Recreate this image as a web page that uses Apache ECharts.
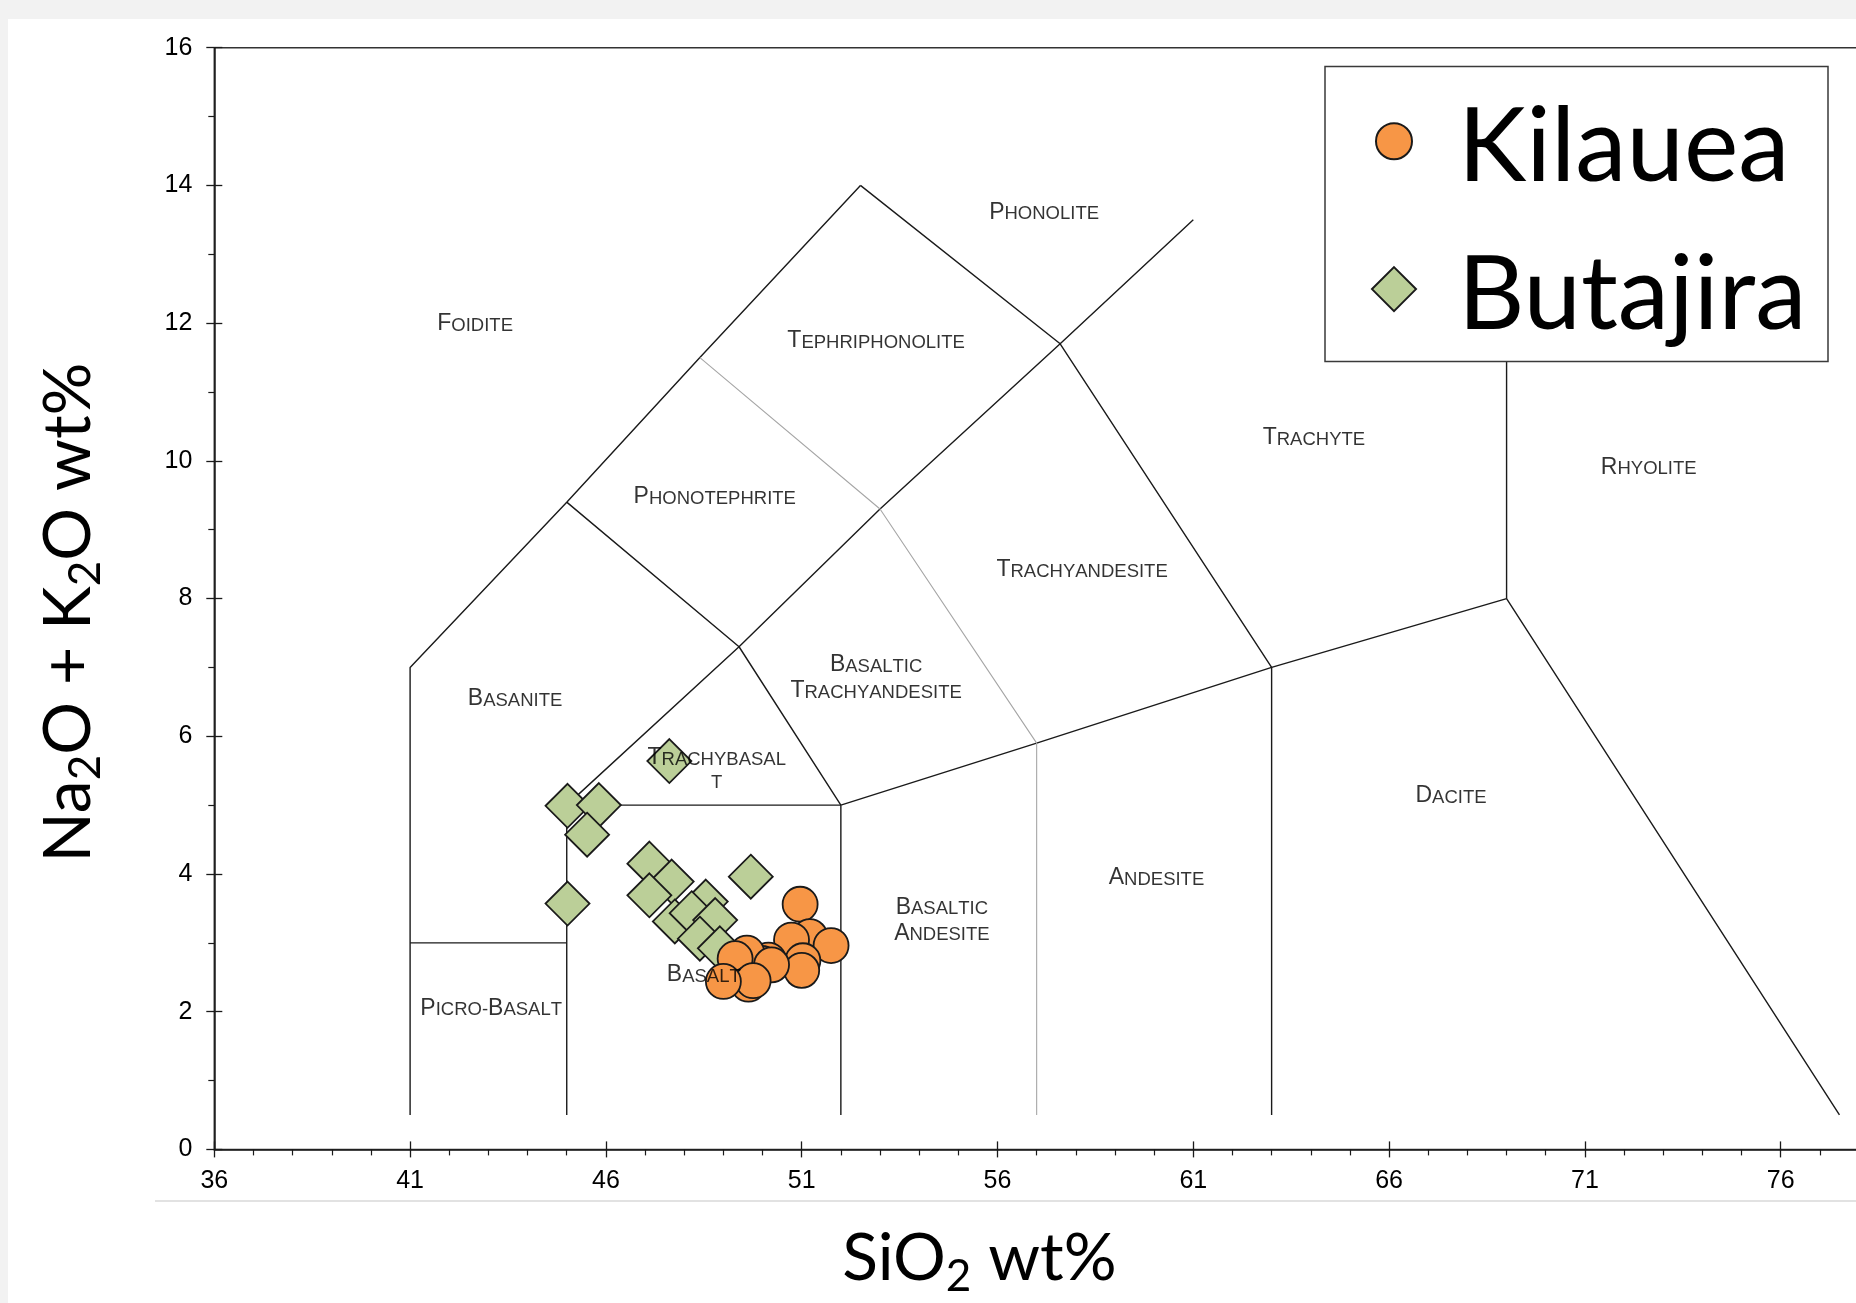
<!DOCTYPE html>
<html>
<head>
<meta charset="utf-8">
<title>TAS diagram</title>
<script src="https://cdn.jsdelivr.net/npm/echarts@6.0.0/dist/echarts.min.js"></script>
<style>
html, body { margin: 0; padding: 0; background: #f2f2f2; overflow: hidden; }
#container { position: absolute; left: 8px; top: 19px; width: 1848px; height: 1284px; background: #fff; }
</style>
</head>
<body>
<div id="container"></div>
<script>
// sample data: [SiO2 wt%, Na2O + K2O wt%]
var kilauea = [
	[50.96, 3.56], [51.21, 3.09], [51.75, 2.96], [50.74, 3.04], [51.03, 2.74],
	[51.00, 2.60], [50.15, 2.75], [49.98, 2.70], [49.60, 2.85], [49.30, 2.77],
	[50.23, 2.68], [49.64, 2.40], [49.76, 2.45], [49.00, 2.44]
];
var butajira = [
	[47.62, 5.64], [45.02, 4.99], [45.82, 5.00], [45.52, 4.57], [45.02, 3.57],
	[47.11, 4.15], [47.68, 3.89], [47.11, 3.69], [49.70, 3.96], [48.55, 3.60],
	[47.76, 3.31], [48.19, 3.43], [48.79, 3.33], [48.40, 3.06], [48.91, 2.92]
];

// TAS field boundaries (Le Bas et al.)
var fieldLines = [
	[[41, 0.5], [41, 7], [45, 9.4], [48.4, 11.5], [52.5, 14]],
	[[41, 3], [45, 3]],
	[[45, 0.5], [45, 5], [49.4, 7.3], [53, 9.3], [57.6, 11.7], [61, 13.5]],
	[[45, 9.4], [49.4, 7.3], [52, 5]],
	[[45, 5], [52, 5]],
	[[52, 0.5], [52, 5], [57, 5.9], [63, 7], [69, 8], [77.5, 0.5]],
	[[52.5, 14], [57.6, 11.7], [63, 7], [63, 0.5]],
	[[69, 8], [69, 13]]
];
var fieldLinesLight = [
	[[48.4, 11.5], [53, 9.3], [57, 5.9], [57, 0.5]]
];

var fieldNames = ['Foidite', 'Phonolite', 'Tephriphonolite', 'Phonotephrite', 'Trachyte', 'Rhyolite',
	'Trachyandesite', 'Basaltic\nTrachyandesite', 'Basanite', 'Trachybasal\nt', 'Dacite',
	'Andesite', 'Basaltic\nAndesite', 'Basalt', 'Picro-Basalt'];
var fieldAt = [[42.66, 12.01], [57.19, 13.63], [52.90, 11.76], [48.78, 9.50], [64.08, 10.36], [72.63, 9.93],
	[58.16, 8.44], [52.90, 6.87], [43.68, 6.57], [48.83, 5.54], [67.58, 5.16],
	[60.06, 3.97], [54.58, 3.35], [48.50, 2.56], [43.07, 2.07]];

var xMin = 36, xMax = 81, xStep = 5;
var yMin = 0, yMax = 16, yStep = 2;

// small caps: capitals big, the rest small upper case
function smallCaps(s){
	return s.split('\n').map(function(line){
		var out = '', i, c;
		for (i = 0; i < line.length; i++) {
			c = line.charAt(i);
			if (c >= 'A' && c <= 'Z') out += '{b|' + c + '}';
			else out += '{s|' + c.toUpperCase() + '}';
		}
		return out;
	}).join('\n');
}

var dom = document.getElementById('container');
var myChart = echarts.init(dom);
var axisColor = '#1a1a1a';
var series = [];

fieldLines.forEach(function(pts){
	series.push({
		type: 'line', data: pts, symbol: 'none', silent: true, z: 1,
		lineStyle: {color: '#1a1a1a', width: 1.4}
	});
});
fieldLinesLight.forEach(function(pts){
	series.push({
		type: 'line', data: pts, symbol: 'none', silent: true, z: 1,
		lineStyle: {color: '#a6a6a6', width: 1.1}
	});
});

series.push({
	name: 'Butajira', type: 'scatter', data: butajira, z: 2,
	symbol: 'diamond', symbolSize: 44,
	itemStyle: {color: '#bbcf98', borderColor: '#1a1a1a', borderWidth: 1.8, opacity: 1}
});

series.push({
	name: 'Kilauea', type: 'scatter', data: kilauea, z: 3,
	symbol: 'circle', symbolSize: 35,
	itemStyle: {color: '#f79646', borderColor: '#1a1a1a', borderWidth: 1.8, opacity: 1}
});

// field names sit on top of the samples
series.push({
	type: 'scatter', silent: true, z: 5, symbolSize: 1,
	itemStyle: {color: 'rgba(0,0,0,0)'},
	data: fieldNames.map(function(n, i){ return {name: n, value: fieldAt[i]}; }),
	label: {
		show: true, position: 'inside',
		formatter: function(p){ return smallCaps(p.name); },
		rich: {
			b: {fontSize: 23, lineHeight: 26, verticalAlign: 'bottom', fontFamily: 'Liberation Sans', color: '#000'},
			s: {fontSize: 18.5, lineHeight: 22.8, verticalAlign: 'bottom', fontFamily: 'Liberation Sans', color: '#000'}
		}
	}
});

var titleRich = {
	a: {fontSize: 66, fontFamily: 'Lato', lineHeight: 80, color: '#000'},
	sub: {fontSize: 44, fontFamily: 'Lato', lineHeight: 44, verticalAlign: 'bottom', color: '#000'}
};

var tickLabel = {fontSize: 25, fontFamily: 'Liberation Sans', color: '#000'};

function legendText(gap){
	return {fontSize: 103, rich: {
		g: {width: gap, height: 10},
		t: {fontSize: 103, lineHeight: 100, padding: [14, 0, 0, 0], fontFamily: 'Lato', color: '#000'}
	}};
}

option = {
	animation: false,
	backgroundColor: '#fff',
	grid: {
		left: 206.3, top: 28.7, right: -120.5, bottom: 153.6,
		show: true, borderColor: '#333', borderWidth: 1.5,
		containLabel: false, outerBoundsMode: 'none'
	},
	xAxis: [{
		type: 'value', min: xMin, max: xMax, interval: xStep, position: 'bottom',
		name: '{a|SiO}{sub|2}{a| wt%}', nameLocation: 'middle', nameGap: 69, nameMoveOverlap: false,
		nameTextStyle: {rich: titleRich, padding: [0, 232, 0, 0]},
		axisLine: {onZero: false, lineStyle: {color: axisColor, width: 1.5}},
		axisTick: {length: 8, lineStyle: {color: axisColor, width: 1.3}},
		minorTick: {show: true, splitNumber: 5, length: 6, lineStyle: {color: axisColor, width: 1.2}},
		axisLabel: Object.assign({margin: 19, showMaxLabel: false, hideOverlap: false}, tickLabel),
		splitLine: {show: false}
	}, {
		// inner half of the crossing major ticks
		type: 'value', min: xMin, max: xMax, interval: xStep, position: 'bottom',
		axisLine: {show: false, onZero: false},
		axisTick: {inside: true, length: 8, lineStyle: {color: axisColor, width: 1.3}},
		axisLabel: {show: false}, splitLine: {show: false}
	}],
	yAxis: [{
		type: 'value', min: yMin, max: yMax, interval: yStep, position: 'left',
		name: '{a|Na}{sub|2}{a|O + K}{sub|2}{a|O wt%}', nameLocation: 'middle', nameGap: 106, nameMoveOverlap: false,
		nameTextStyle: {rich: titleRich, padding: [0, 28, 0, 0]},
		axisLine: {onZero: false, lineStyle: {color: axisColor, width: 1.5}},
		axisTick: {length: 8, lineStyle: {color: axisColor, width: 1.3}},
		minorTick: {show: true, splitNumber: 2, length: 6, lineStyle: {color: axisColor, width: 1.2}},
		axisLabel: Object.assign({margin: 22, hideOverlap: false}, tickLabel),
		splitLine: {show: false}
	}, {
		type: 'value', min: yMin, max: yMax, interval: yStep, position: 'left',
		axisLine: {show: false, onZero: false},
		axisTick: {inside: true, length: 8, lineStyle: {color: axisColor, width: 1.3}},
		axisLabel: {show: false}, splitLine: {show: false}
	}],
	legend: [{
		data: ['Kilauea'], selectedMode: false, orient: 'vertical',
		left: 1367, top: 63.7, padding: 0, z: 11,
		itemWidth: 36, itemHeight: 36,
		formatter: function(n){ return '{g|}{t|' + n + '}'; },
		textStyle: legendText(41)
	}, {
		data: ['Butajira'], selectedMode: false, orient: 'vertical',
		left: 1363, top: 211.6, padding: 0, z: 11,
		itemWidth: 44, itemHeight: 44,
		formatter: function(n){ return '{g|}{t|' + n + '}'; },
		textStyle: legendText(37)
	}],
	graphic: [{
		type: 'rect', z: 10, silent: true,
		shape: {x: 1317, y: 47.5, width: 503, height: 295},
		style: {fill: '#fff', stroke: '#3a3a3a', lineWidth: 1.5}
	}, {
		type: 'line', z: 0, silent: true,
		shape: {x1: 147, y1: 1182, x2: 1848, y2: 1182},
		style: {stroke: '#d9d9d9', lineWidth: 1.5}
	}],
	series: series
};

if (option && typeof option === "object") {
	myChart.setOption(option, true);
}
</script>
</body>
</html>
